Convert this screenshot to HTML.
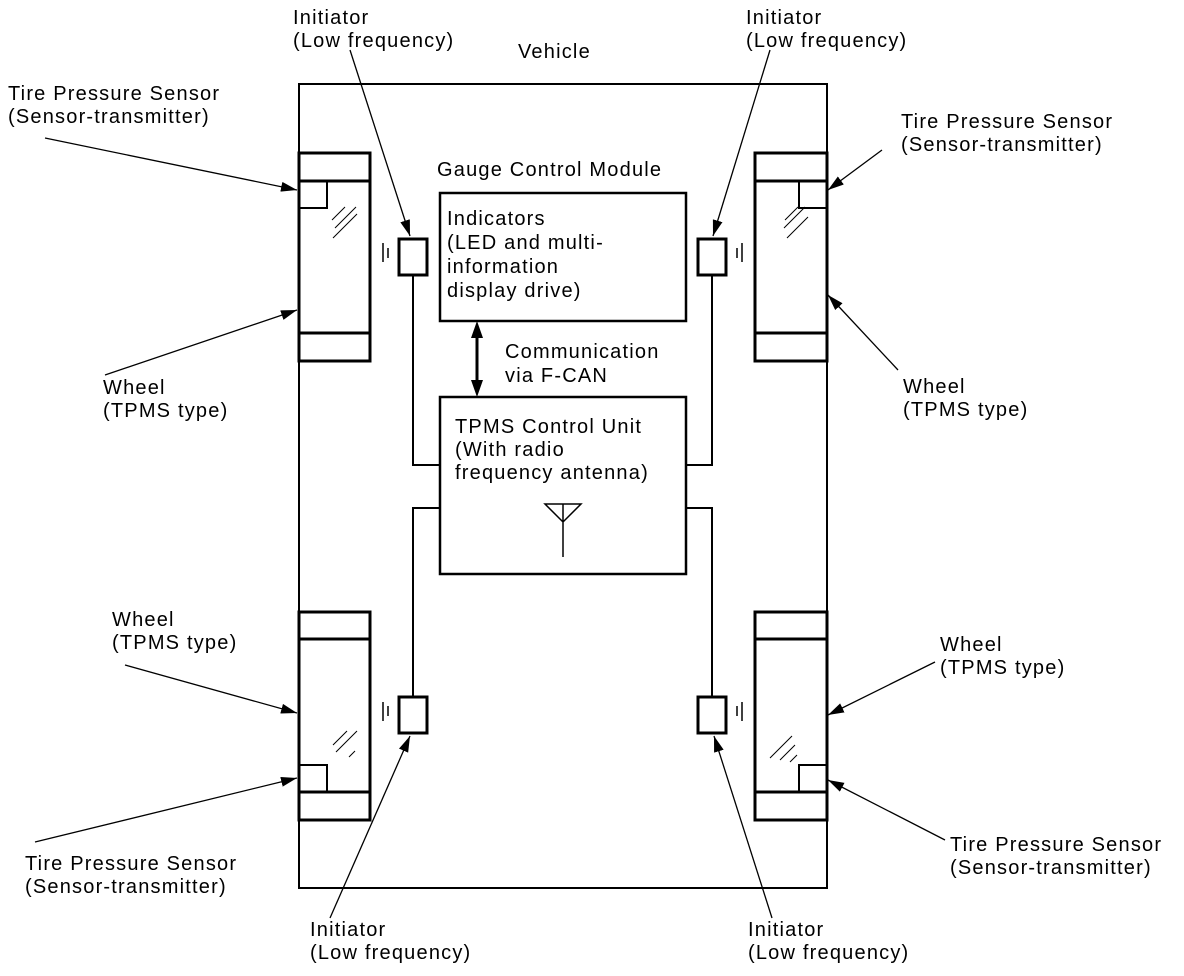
<!DOCTYPE html>
<html><head><meta charset="utf-8"><style>
html,body{margin:0;padding:0;background:#fff}
svg{display:block}
text{font-family:"Liberation Sans",sans-serif;font-size:20px;letter-spacing:1.2px;fill:#000}
</style></head><body>
<svg width="1184" height="976" viewBox="0 0 1184 976">
<defs><marker id="b" markerWidth="16" markerHeight="10" refX="16" refY="5" orient="auto" markerUnits="userSpaceOnUse"><path d="M0,0 L16,5 L0,10 z"/></marker></defs>
<g fill="none" stroke="#000" stroke-width="3">
<rect x="299" y="84" width="528" height="804" stroke-width="2"/>
<rect x="299" y="153" width="71" height="208"/><line x1="299" y1="181" x2="370" y2="181"/><line x1="299" y1="333" x2="370" y2="333"/><path d="M299,208 H327 V181" stroke-width="2"/>
<rect x="755" y="153" width="72" height="208"/><line x1="755" y1="181" x2="827" y2="181"/><line x1="755" y1="333" x2="827" y2="333"/><path d="M827,208 H799 V181" stroke-width="2"/>
<rect x="299" y="612" width="71" height="208"/><line x1="299" y1="639" x2="370" y2="639"/><line x1="299" y1="792" x2="370" y2="792"/><path d="M299,765 H327 V792" stroke-width="2"/>
<rect x="755" y="612" width="72" height="208"/><line x1="755" y1="639" x2="827" y2="639"/><line x1="755" y1="792" x2="827" y2="792"/><path d="M827,765 H799 V792" stroke-width="2"/>
<rect x="399" y="239" width="28" height="36"/><rect x="698" y="239" width="28" height="36"/>
<rect x="399" y="697" width="28" height="36"/><rect x="698" y="697" width="28" height="36"/>
<rect x="440" y="193" width="246" height="128" stroke-width="2.5"/>
<rect x="440" y="397" width="246" height="177" stroke-width="2.5"/>
</g>
<g fill="none" stroke="#000" stroke-width="2">
<path d="M413,275 V465 H440"/><path d="M413,697 V508 H440"/>
<path d="M712,275 V465 H686"/><path d="M712,697 V508 H686"/>
<path d="M545,504 H581 L563,522 Z M563,504 V557" stroke-width="1.5"/>
<g stroke-width="1"><path d="M332,220 L345,207 M335,228 L356,207 M333,238 L357,214"/>
<path d="M785,220 L798,207 M784,228 L805,207 M787,238 L808,217"/>
<path d="M333,745 L347,731 M336,752 L357,731 M349,757 L355,751"/>
<path d="M770,758 L792,736 M780,760 L795,745 M790,762 L797,755"/></g>
<path d="M383,243 V262 M388,248 V258" stroke-width="1.5"/><path d="M742,243 V262 M737,248 V258" stroke-width="1.5"/>
<path d="M383,702 V721 M388,706 V716" stroke-width="1.5"/><path d="M742,702 V721 M737,706 V716" stroke-width="1.5"/>
</g>
<line x1="477" y1="335" x2="477" y2="383" stroke="#000" stroke-width="3"/>
<path d="M477,321 L471,338 L483,338 Z M477,397 L471,380 L483,380 Z"/>
<g stroke="#000" stroke-width="1.3">
<line x1="350" y1="50" x2="410" y2="236" marker-end="url(#b)"/>
<line x1="770" y1="50" x2="713" y2="236" marker-end="url(#b)"/>
<line x1="45" y1="138" x2="297" y2="190" marker-end="url(#b)"/>
<line x1="105" y1="375" x2="297" y2="310" marker-end="url(#b)"/>
<line x1="882" y1="150" x2="828" y2="190" marker-end="url(#b)"/>
<line x1="898" y1="370" x2="828" y2="295" marker-end="url(#b)"/>
<line x1="125" y1="665" x2="297" y2="713" marker-end="url(#b)"/>
<line x1="35" y1="842" x2="297" y2="778" marker-end="url(#b)"/>
<line x1="330" y1="918" x2="410" y2="736" marker-end="url(#b)"/>
<line x1="935" y1="662" x2="828" y2="715" marker-end="url(#b)"/>
<line x1="945" y1="840" x2="828" y2="780" marker-end="url(#b)"/>
<line x1="772" y1="918" x2="714" y2="736" marker-end="url(#b)"/>
</g>
<text x="293" y="24">Initiator</text><text x="293" y="47">(Low frequency)</text>
<text x="746" y="24">Initiator</text><text x="746" y="47">(Low frequency)</text>
<text x="518" y="58">Vehicle</text>
<text x="8" y="100">Tire Pressure Sensor</text><text x="8" y="123">(Sensor-transmitter)</text>
<text x="901" y="128">Tire Pressure Sensor</text><text x="901" y="151">(Sensor-transmitter)</text>
<text x="437" y="176">Gauge Control Module</text>
<text x="447" y="225">Indicators</text><text x="447" y="249">(LED and multi-</text><text x="447" y="273">information</text><text x="447" y="297">display drive)</text>
<text x="505" y="358">Communication</text><text x="505" y="382">via F-CAN</text>
<text x="455" y="433">TPMS Control Unit</text><text x="455" y="456">(With radio</text><text x="455" y="479">frequency antenna)</text>
<text x="103" y="394">Wheel</text><text x="103" y="417">(TPMS type)</text>
<text x="903" y="393">Wheel</text><text x="903" y="416">(TPMS type)</text>
<text x="112" y="626">Wheel</text><text x="112" y="649">(TPMS type)</text>
<text x="940" y="651">Wheel</text><text x="940" y="674">(TPMS type)</text>
<text x="950" y="851">Tire Pressure Sensor</text><text x="950" y="874">(Sensor-transmitter)</text>
<text x="25" y="870">Tire Pressure Sensor</text><text x="25" y="893">(Sensor-transmitter)</text>
<text x="310" y="936">Initiator</text><text x="310" y="959">(Low frequency)</text>
<text x="748" y="936">Initiator</text><text x="748" y="959">(Low frequency)</text>
</svg>
</body></html>
